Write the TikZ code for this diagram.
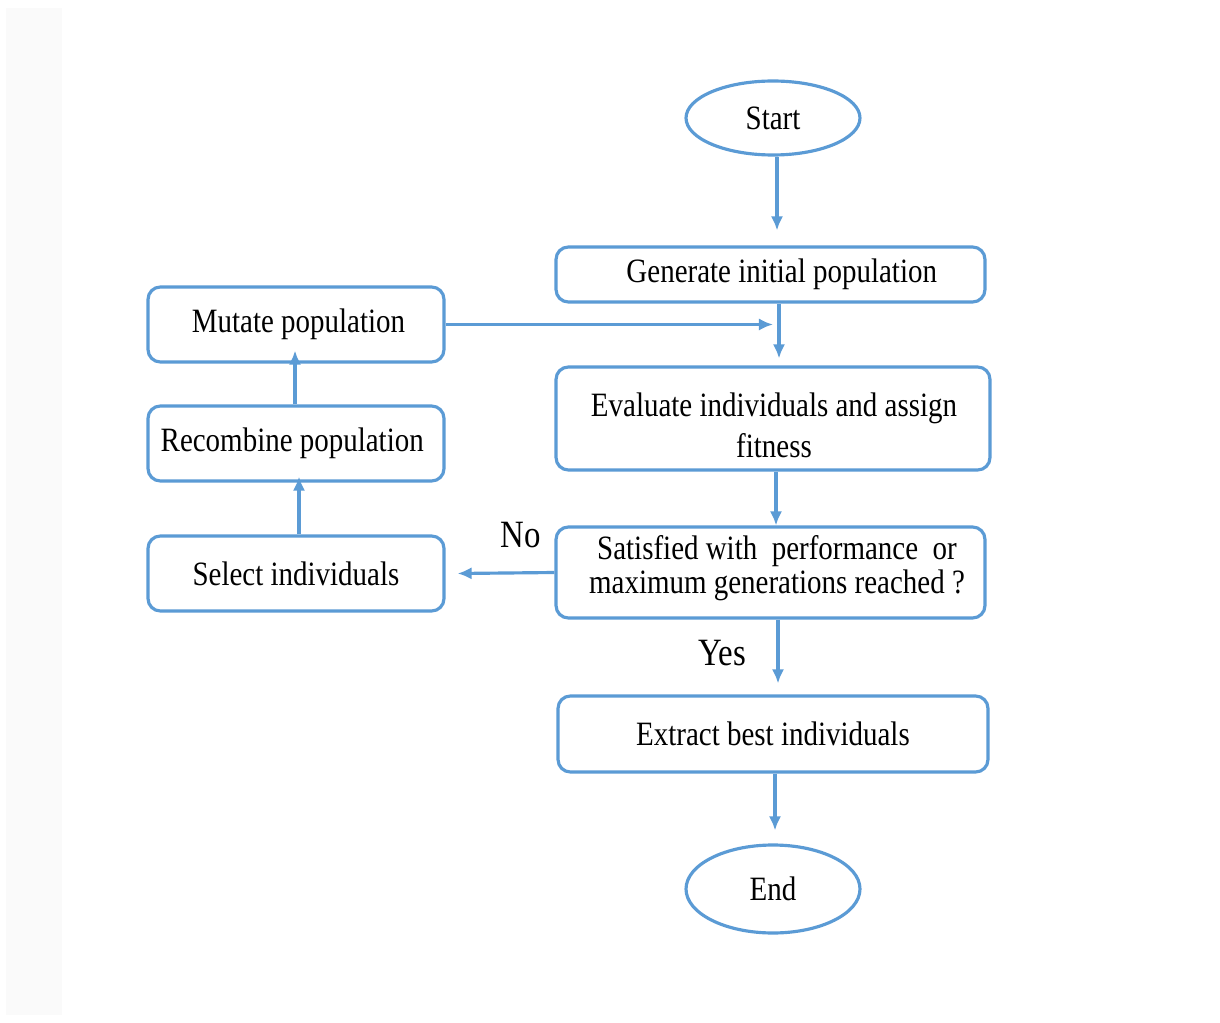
\documentclass[tikz,border=0pt]{standalone}
\usepackage{fontspec}
\setmainfont{Liberation Serif}[FakeStretch=0.85]
\usetikzlibrary{arrows.meta,shapes.geometric}
\definecolor{flowblue}{HTML}{5B9BD5}
\begin{document}
\begin{tikzpicture}[x=0.02cm,y=-0.02cm,
  every node/.style={font=\fontsize{19.4}{23.3}\selectfont, text=black},
  box/.style={draw=flowblue, line width=1.8pt, rounded corners=7pt, align=center, inner sep=0pt},
  term/.style={draw=flowblue, line width=1.8pt, ellipse, inner sep=0pt},
  arr/.style={draw=flowblue, line width=1.8pt, -{Latex[length=8pt,width=7pt]}},
  lbl/.style={font=\fontsize{22}{26}\selectfont}]
  % page frame
  \useasboundingbox (0,0) rectangle (1220,1023);
  \fill[white] (0,0) rectangle (1220,1023);
  \fill[black!2] (6,8) rectangle (62,1015);

  % terminals
  \node[term, minimum width=3.48cm, minimum height=1.48cm] (start) at (773,118) {Start};
  \node[term, minimum width=3.48cm, minimum height=1.76cm] (end) at (773,889) {End};

  % main column
  \node[box, minimum width=8.58cm, minimum height=1.10cm] (gen) at (770.5,274.5) {\hspace{0.45cm}Generate initial population};
  \node[box, minimum width=8.68cm, minimum height=2.06cm] (eval) at (773,418.5) {};
  \node[align=center] (evaltxt) at (774,425.5) {Evaluate individuals and assign\\fitness};
  \node[box, minimum width=8.58cm, minimum height=1.82cm] (sat) at (770.5,572.5) {};
  \node[align=center, font=\fontsize{19.4}{19.4}\selectfont] (sattxt) at (777,568)
    {Satisfied with\ \ performance\ \ or\\maximum generations reached ?};
  \node[box, minimum width=8.60cm, minimum height=1.52cm] (ext) at (773,734) {Extract best individuals};

  % loop column
  \node[box, minimum width=5.92cm, minimum height=1.5cm] (mut) at (296,324.5) {\hspace{0.1cm}Mutate population};
  \node[box, minimum width=5.92cm, minimum height=1.5cm] (rec) at (296,443.5) {\hspace{-0.15cm}Recombine population};
  \node[box, minimum width=5.92cm, minimum height=1.5cm] (sel) at (296,573.5) {Select individuals};

  % decision labels
  \node[lbl] (no) at (521,535) {No};
  \node[lbl] (yes) at (722,653) {Yes};

  % connector end points
  \coordinate (a1) at (777,0);
  \coordinate (a2) at (779,0);
  \coordinate (a3) at (776,0);
  \coordinate (a4) at (778,0);
  \coordinate (a5) at (775,0);
  \coordinate (mj) at (773,0);

  % connectors
  \draw[arr] (a1 |- start.south) -- ([yshift=0.3cm]a1 |- gen.north);
  \draw[arr] (a2 |- gen.south) -- ([yshift=0.14cm]a2 |- eval.north);
  \draw[arr] (mut.east) -- (mj |- mut.east);
  \draw[arr] (a3 |- eval.south) -- (a3 |- sat.north);
  \draw[arr] (sat.west) -- ([xshift=0.24cm]sel.east);
  \draw[arr] ([xshift=0.06cm]sel.north) -- ([xshift=0.06cm, yshift=0.12cm]rec.south);
  \draw[arr] ([xshift=-0.02cm]rec.north) -- ([xshift=-0.02cm, yshift=0.26cm]mut.south);
  \draw[arr] (a4 |- sat.south) -- ([yshift=0.22cm]a4 |- ext.north);
  \draw[arr] (a5 |- ext.south) -- ([yshift=0.26cm]a5 |- end.north);
\end{tikzpicture}
\end{document}
